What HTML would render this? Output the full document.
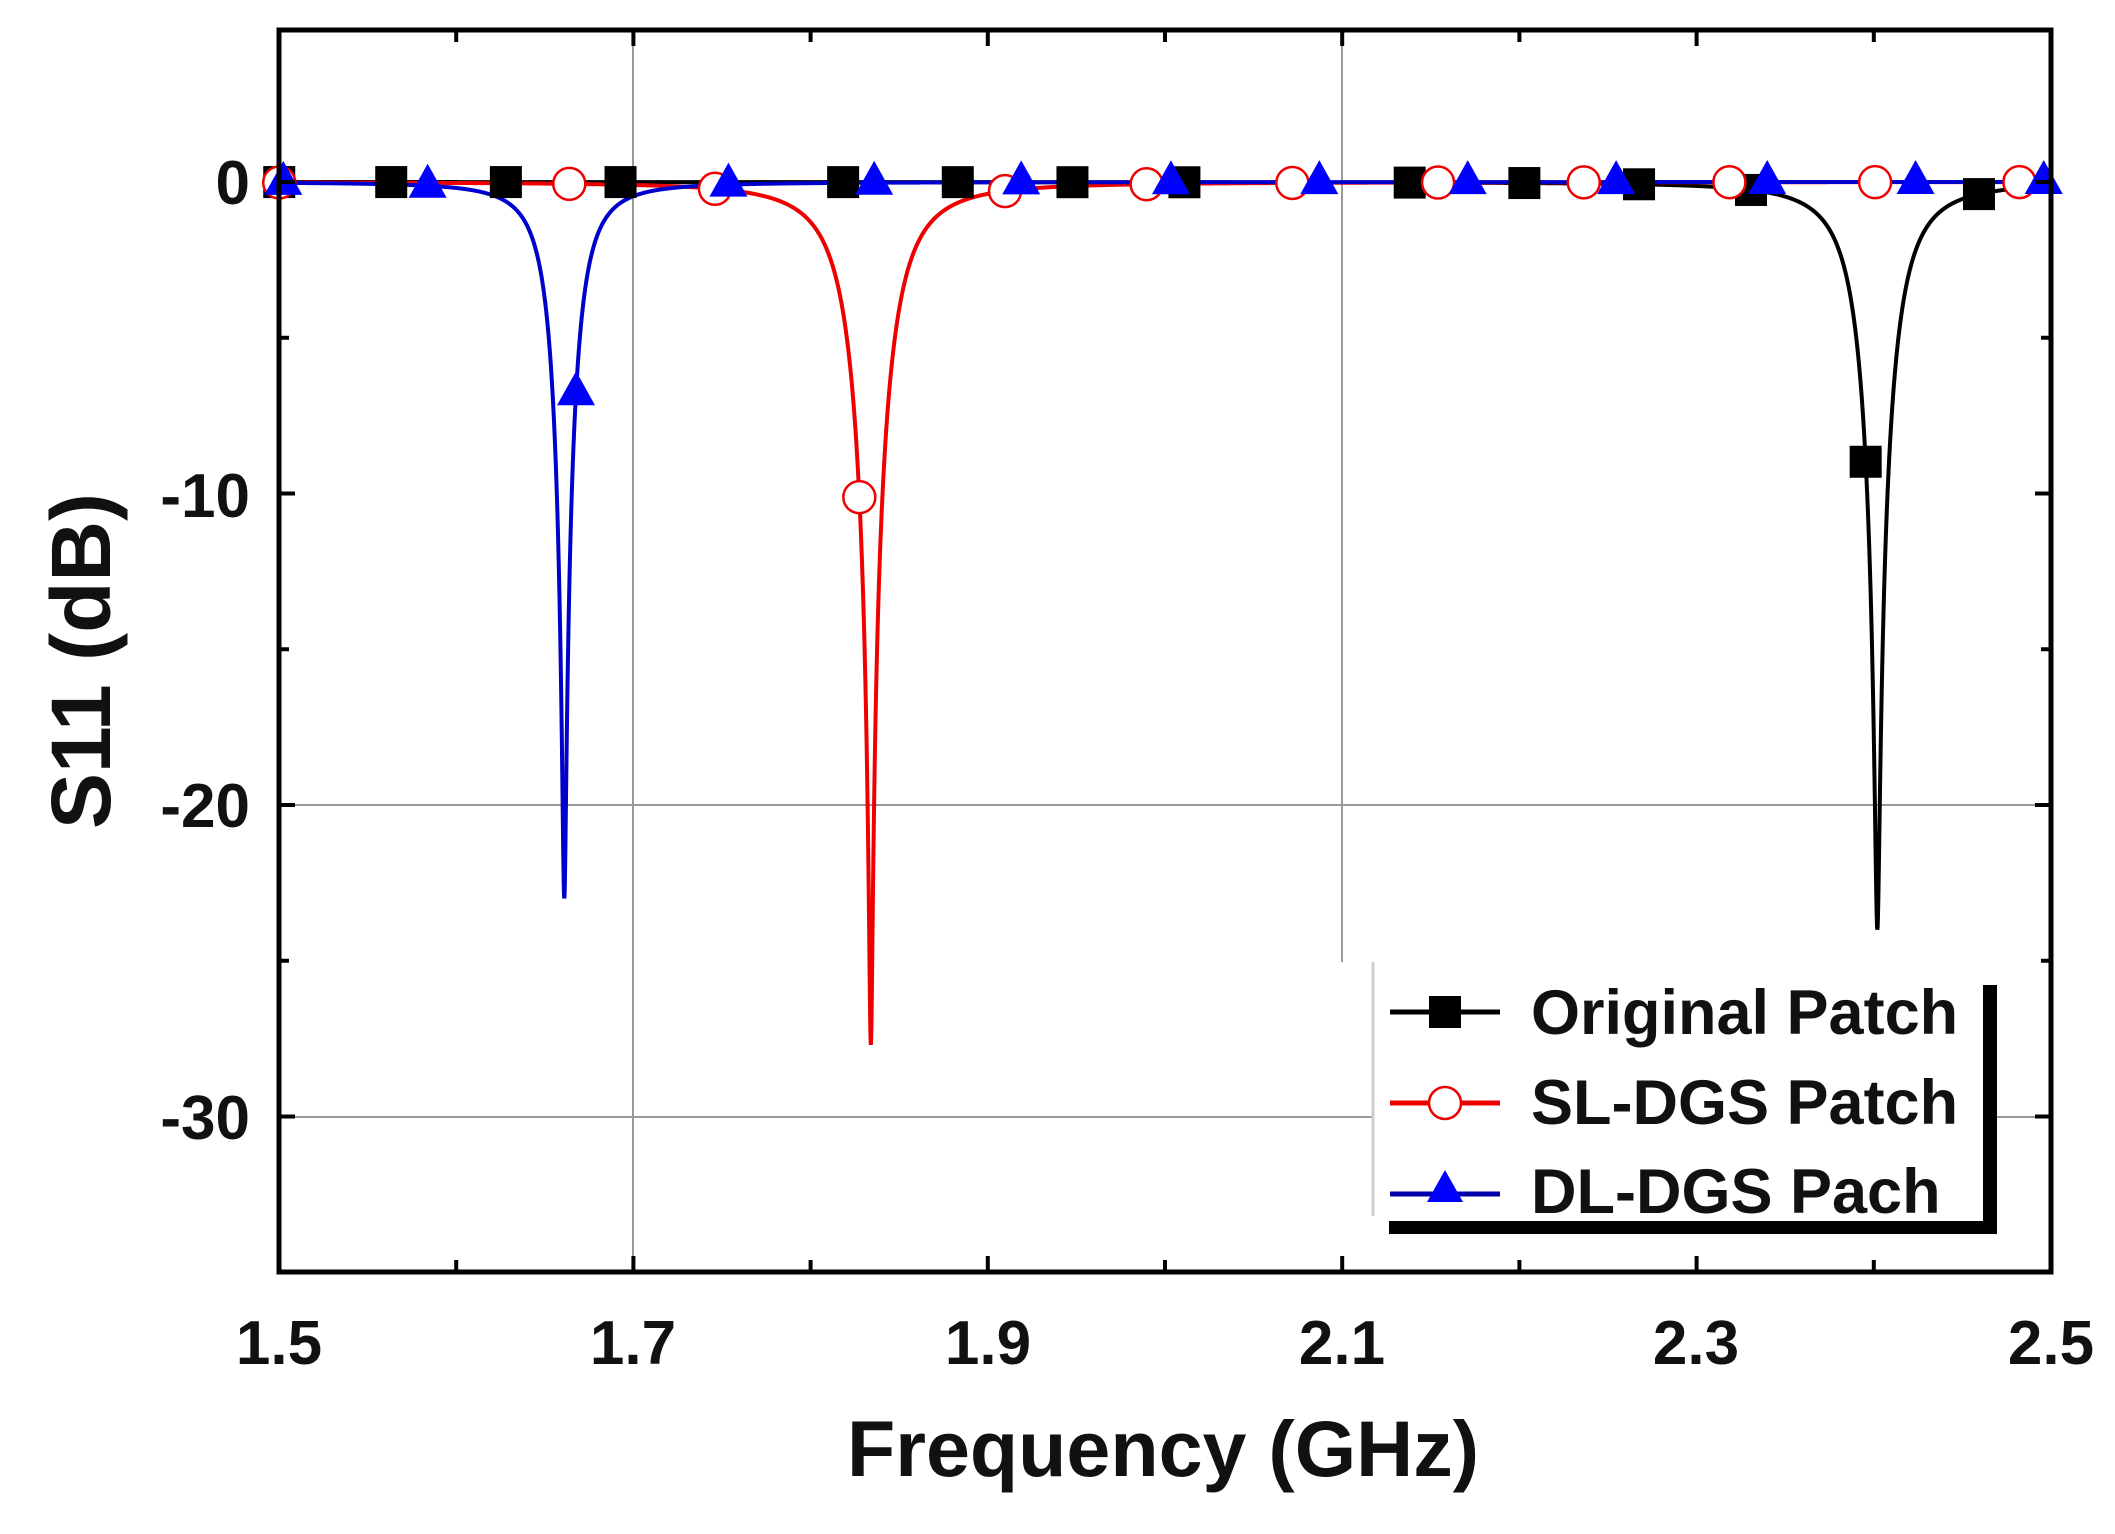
<!DOCTYPE html>
<html><head><meta charset="utf-8"><style>
html,body{margin:0;padding:0;background:#fff}
svg{display:block}
text{font-family:"Liberation Sans",Arial,sans-serif;font-weight:bold;fill:#111}
</style></head><body>
<svg id="s" width="2115" height="1534" viewBox="0 0 2115 1534" xmlns="http://www.w3.org/2000/svg">
<rect width="2115" height="1534" fill="#fff"/>
<g id="grid" stroke="#999" stroke-width="2">
<line x1="633" y1="30" x2="633" y2="1272"/>
<line x1="1342" y1="30" x2="1342" y2="962"/>
<line x1="279" y1="805" x2="2051" y2="805"/>
<line x1="279" y1="1117" x2="1373" y2="1117"/>
<line x1="1997" y1="1117" x2="2051" y2="1117"/>
</g>
<g id="curves"></g>
<g id="marks"></g>
<rect x="279" y="30" width="1772" height="1242" fill="none" stroke="#000" stroke-width="5"/>
<g id="ticks" stroke="#000" stroke-width="4"></g>
<g font-size="62" text-anchor="end">
<text x="250" y="204">0</text>
<text x="250" y="517">-10</text>
<text x="250" y="827">-20</text>
<text x="250" y="1139">-30</text>
</g>
<g font-size="62" text-anchor="middle">
<text x="279" y="1364">1.5</text>
<text x="633" y="1364">1.7</text>
<text x="988" y="1364">1.9</text>
<text x="1342" y="1364">2.1</text>
<text x="1696" y="1364">2.3</text>
<text x="2051" y="1364">2.5</text>
</g>
<text x="1163" y="1476" font-size="79" text-anchor="middle">Frequency (GHz)</text>
<text transform="translate(110,661) rotate(-90)" font-size="84" text-anchor="middle">S11 (dB)</text>
<g id="legend">
<rect x="1389" y="985" width="608" height="249" fill="#000"/>
<rect x="1373" y="962" width="610" height="259" fill="#fff"/>
<line x1="1373" y1="962" x2="1373" y2="1216" stroke="#ccc" stroke-width="3"/>
<line x1="1390" y1="1012" x2="1500" y2="1012" stroke="#000" stroke-width="5"/>
<rect x="1429" y="996" width="32" height="32" fill="#000"/>
<line x1="1390" y1="1103" x2="1500" y2="1103" stroke="#e00" stroke-width="5"/>
<circle cx="1445" cy="1103" r="16" fill="#fff" stroke="#e00" stroke-width="2.5"/>
<line x1="1390" y1="1194" x2="1500" y2="1194" stroke="#00a" stroke-width="5"/>
<polygon points="1445,1170 1463,1202 1427,1202" fill="#00f"/>
<text x="1531" y="1034" font-size="63">Original Patch</text>
<text x="1531" y="1124" font-size="63">SL-DGS Patch</text>
<text x="1531" y="1213" font-size="63">DL-DGS Pach</text>
</g>
</svg>
<script>
(function(){
var NS="http://www.w3.org/2000/svg";
function X(f){return 279+(f-1.5)*1772;}
function Y(v){return 182-v*31.15;}
function fd(x){return 1.5+(x*1.349-279)/1772;}
function mk(f0,w,mn){var g=Math.pow(10,mn/10);return function(f){var L=1/(1+Math.pow((f-f0)/w,2));var r=1-(1-g)*L;return 10*Math.log10(r);};}
var S=[{fn:mk(2.402,0.0176,-24),c:"#000",m:"sq",xs:[207,290,375,460,625,710,795,878,1045,1130,1215,1298,1383,1467]},
{fn:mk(1.834,0.02,-27.7),c:"#e00",m:"ci",xs:[207,422,530,637,745,850,958,1066,1174,1282,1390,1497]},
{fn:mk(1.661,0.013,-23),c:"#0000cc",m:"tr",xs:[210,317,427,540,648,757,868,978,1088,1198,1310,1420,1515]}];
var cg=document.getElementById("curves"),mg=document.getElementById("marks");
S.forEach(function(s){
 var d="";for(var i=0;i<=8000;i++){var f=1.5+i/8000;d+=(i?"L":"M")+X(f).toFixed(2)+" "+Y(s.fn(f)).toFixed(2);}
 var p=document.createElementNS(NS,"path");p.setAttribute("d",d);p.setAttribute("fill","none");p.setAttribute("stroke",s.c);p.setAttribute("stroke-width","4");cg.appendChild(p);
});
S.forEach(function(s){
 s.xs.forEach(function(xd){var f=fd(xd);var x=X(f),y=Y(s.fn(f));var e;
  if(s.m=="sq"){e=document.createElementNS(NS,"rect");e.setAttribute("x",x-16);e.setAttribute("y",y-16);e.setAttribute("width",32);e.setAttribute("height",32);e.setAttribute("fill","#000");}
  else if(s.m=="ci"){e=document.createElementNS(NS,"circle");e.setAttribute("cx",x);e.setAttribute("cy",y);e.setAttribute("r",16);e.setAttribute("fill","#fff");e.setAttribute("stroke","#e00");e.setAttribute("stroke-width","2.5");}
  else{e=document.createElementNS(NS,"polygon");e.setAttribute("points",x+","+(y-22)+" "+(x+19)+","+(y+12)+" "+(x-19)+","+(y+12));e.setAttribute("fill","#00f");}
  mg.appendChild(e);});
});
var tg=document.getElementById("ticks");
function ln(a,b,c,d){var l=document.createElementNS(NS,"line");l.setAttribute("x1",a);l.setAttribute("y1",b);l.setAttribute("x2",c);l.setAttribute("y2",d);tg.appendChild(l);}
for(var k=0;k<=10;k++){var x=X(1.5+k*0.1);var L=(k%2==0)?16:12;ln(x,1272,x,1272-L);ln(x,30,x,30+L);}
for(var v=0;v>=-35;v-=5){var y=Y(v);var L=(v%10==0)?16:10;ln(279,y,279+L,y);ln(2051,y,2051-L,y);}
})();
</script>
</body></html>
